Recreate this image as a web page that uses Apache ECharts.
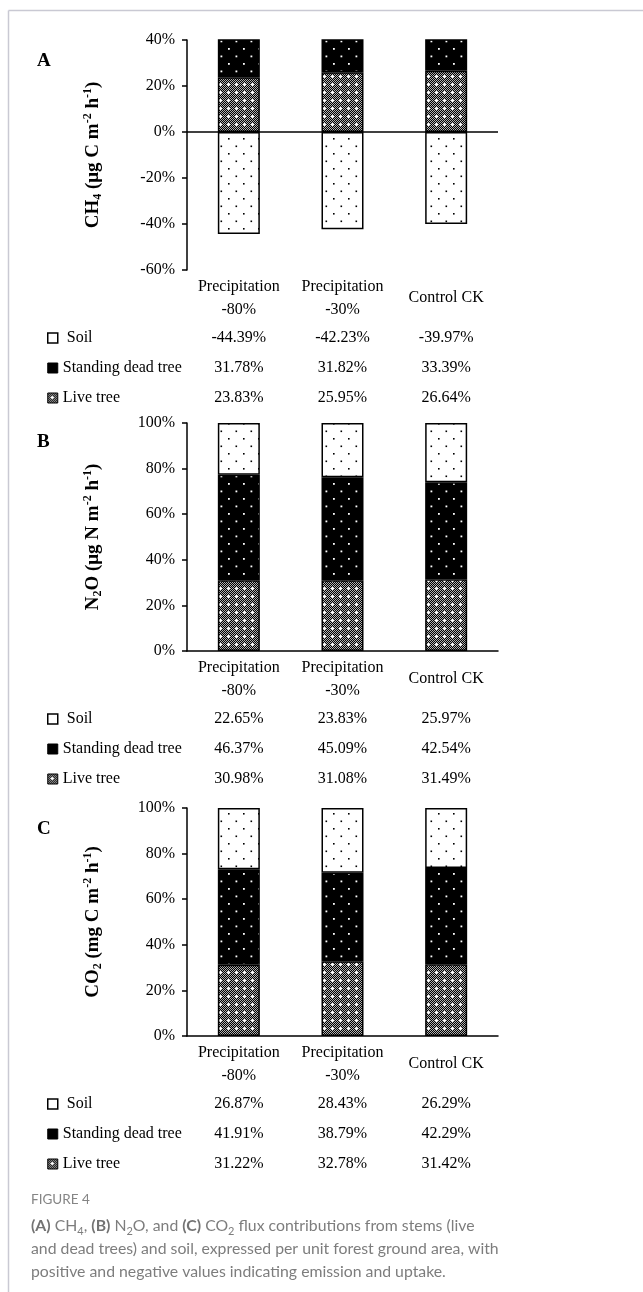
<!DOCTYPE html>
<html><head><meta charset="utf-8">
<script src="https://cdn.jsdelivr.net/npm/echarts@6/dist/echarts.min.js"></script>
<style>html,body{margin:0;padding:0;background:#fff;}#c{width:643px;height:1292px;}</style>
</head><body><div id="c"></div>
<script>
// ---- data ----
const categories = ['Precipitation\n-80%', 'Precipitation\n-30%', 'Control CK'];
const seriesNames = ['Soil', 'Standing dead tree', 'Live tree'];
const ch4Soil = [-44.39, -42.23, -39.97];
const ch4Dead = [31.78, 31.82, 33.39];
const ch4Live = [23.83, 25.95, 26.64];
const n2oSoil = [22.65, 23.83, 25.97];
const n2oDead = [46.37, 45.09, 42.54];
const n2oLive = [30.98, 31.08, 31.49];
const co2Soil = [26.87, 28.43, 26.29];
const co2Dead = [41.91, 38.79, 42.29];
const co2Live = [31.22, 32.78, 31.42];
const ch4Range = [-60, 40];
const pctRange = [0, 100];
const tickStep = 20;

// ---- patterns ----
function makeCanvas(w, h, draw) { const c = document.createElement('canvas'); c.width = w; c.height = h; draw(c.getContext('2d')); return c; }
const soilPat = makeCanvas(15, 15, g => { g.fillStyle = '#fff'; g.fillRect(0, 0, 15, 15); g.fillStyle = '#000'; g.fillRect(3, 3, 1.6, 1.6); g.fillRect(10.5, 10.5, 1.6, 1.6); });
const deadPat = makeCanvas(15, 15, g => { g.fillStyle = '#000'; g.fillRect(0, 0, 15, 15); g.fillStyle = '#fff'; g.fillRect(3, 3, 1.8, 1.8); g.fillRect(10.5, 10.5, 1.8, 1.8); });
const livePat = makeCanvas(16, 16, g => {
  g.fillStyle = '#000'; g.fillRect(0, 0, 16, 16);
  g.fillStyle = '#b0b0b0';
  for (let i = 0; i < 16; i++) for (let j = 0; j < 16; j++) if ((i + j) % 2 === 0) g.fillRect(i, j, 1, 1);
  g.fillStyle = '#fff';
  [[4, 4], [12, 4], [4, 12], [12, 12]].forEach(([x, y]) => { g.fillRect(x - 1, y, 3, 1); g.fillRect(x, y - 1, 1, 3); });
});
const fills = {
  'Soil': { image: soilPat, repeat: 'repeat' },
  'Standing dead tree': { image: deadPat, repeat: 'repeat' },
  'Live tree': { image: livePat, repeat: 'repeat' }
};

const SERIF = 'Liberation Serif';
const panels = [
  { letter: 'A', soil: ch4Soil, dead: ch4Dead, live: ch4Live, range: ch4Range, top: 40, height: 230, letterTop: 52,
    name: '{b|CH}{sub|4}{b| (μg C m}{sup|-2}{b| h}{sup|-1}{b|)}', zeroMark: true },
  { letter: 'B', soil: n2oSoil, dead: n2oDead, live: n2oLive, range: pctRange, top: 423, height: 228, letterTop: 433,
    name: '{b|N}{sub|2}{b|O (μg N m}{sup|-2}{b| h}{sup|-1}{b|)}', zeroMark: false },
  { letter: 'C', soil: co2Soil, dead: co2Dead, live: co2Live, range: pctRange, top: 808, height: 228, letterTop: 820,
    name: '{b|CO}{sub|2}{b| (mg C m}{sup|-2}{b| h}{sup|-1}{b|)}', zeroMark: false }
];

const grid = [], xAxis = [], yAxis = [], series = [], legend = [], title = [];
const rowOffsets = [68, 98, 128];
panels.forEach((p, gi) => {
  grid.push({ left: 187, width: 311, top: p.top, height: p.height });
  const baseX = xAxis.length;
  xAxis.push({
    type: 'category', gridIndex: gi, data: categories, position: 'bottom',
    axisLine: { show: !p.zeroMark, onZero: false, lineStyle: { color: '#000', width: 1.5 } },
    axisTick: { show: false },
    axisLabel: { interval: 0, fontFamily: SERIF, fontSize: 16, color: '#000', lineHeight: 23, verticalAlign: 'middle', margin: 28 }
  });
  const rows = [p.soil, p.dead, p.live];
  rows.forEach((arr, ri) => {
    xAxis.push({
      type: 'category', gridIndex: gi, data: categories, position: 'bottom', offset: rowOffsets[ri],
      axisLine: { show: false, onZero: false }, axisTick: { show: false }, splitLine: { show: false },
      axisLabel: { interval: 0, margin: 0, verticalAlign: 'middle', fontFamily: SERIF, fontSize: 16, color: '#000',
        formatter: (v, i) => arr[i].toFixed(2) + '%' }
    });
  });
  yAxis.push({
    type: 'value', gridIndex: gi, min: p.range[0], max: p.range[1], interval: tickStep,
    name: p.name, nameLocation: 'middle', nameGap: 83,
    nameTextStyle: {
      rich: {
        b: { fontFamily: SERIF, fontSize: 19, fontWeight: 'bold', color: '#000', lineHeight: 22 },
        sub: { fontFamily: SERIF, fontSize: 12, fontWeight: 'bold', color: '#000', lineHeight: 14, verticalAlign: 'bottom' },
        sup: { fontFamily: SERIF, fontSize: 12, fontWeight: 'bold', color: '#000', lineHeight: 14, verticalAlign: 'top' }
      }
    },
    axisLine: { show: true, lineStyle: { color: '#000', width: 1.5 } },
    axisTick: { show: true, length: 5, lineStyle: { color: '#000', width: 1.5 } },
    splitLine: { show: false },
    axisLabel: { formatter: '{value}%', fontFamily: SERIF, fontSize: 16, color: '#000', margin: 12 }
  });
  const stackId = 'st' + gi;
  [['Live tree', p.live], ['Standing dead tree', p.dead], ['Soil', p.soil]].forEach(([nm, data]) => {
    const s = {
      type: 'bar', name: nm, xAxisIndex: baseX, yAxisIndex: gi, stack: stackId, data: data,
      barWidth: 42, clip: true, animation: false,
      itemStyle: { color: fills[nm], borderColor: '#000', borderWidth: 1.5 }
    };
    if (nm === 'Soil' && p.zeroMark) {
      s.markLine = { silent: true, symbol: 'none', label: { show: false },
        lineStyle: { color: '#000', width: 1.5, type: 'solid' }, data: [{ yAxis: 0 }] };
    }
    series.push(s);
  });
  legend.push({
    orient: 'vertical', left: 47, top: p.top + p.height + rowOffsets[0] - 8, itemGap: 14, padding: 0,
    itemWidth: 10, itemHeight: 10, selectedMode: false,
    textStyle: { fontFamily: SERIF, fontSize: 16, color: '#000', lineHeight: 16 },
    formatter: n => (n === 'Soil' ? ' Soil' : n),
    data: [
      { name: 'Soil', icon: 'rect', itemStyle: { color: '#fff', borderColor: '#000', borderWidth: 1.5 } },
      { name: 'Standing dead tree', icon: 'rect', itemStyle: { color: '#000', borderColor: '#000', borderWidth: 1 } },
      { name: 'Live tree', icon: 'rect', itemStyle: { color: fills['Live tree'], borderColor: '#000', borderWidth: 1 } }
    ]
  });
  title.push({ text: p.letter, left: 37, top: p.letterTop, padding: 0,
    textStyle: { fontFamily: SERIF, fontSize: 19, fontWeight: 'bold', color: '#000' } });
});

title.push({ text: 'FIGURE 4', left: 31, top: 1193, padding: 0,
  textStyle: { fontFamily: 'Lato', fontSize: 13.5, fontWeight: 'normal', color: '#858585' } });
title.push({
  left: 31, top: 1214, padding: 0,
  text: '{b|(A)} CH{s|4}, {b|(B)} N{s|2}O, and {b|(C)} CO{s|2} flux contributions from stems (live\nand dead trees) and soil, expressed per unit forest ground area, with\npositive and negative values indicating emission and uptake.',
  textStyle: {
    fontFamily: 'Lato', fontSize: 15.8, fontWeight: 'normal', color: '#7d7d7d', lineHeight: 23,
    rich: {
      b: { fontFamily: 'Lato', fontSize: 15.8, fontWeight: 'bold', color: '#737373', lineHeight: 23 },
      s: { fontFamily: 'Lato', fontSize: 11, color: '#7d7d7d', lineHeight: 13, verticalAlign: 'bottom' }
    }
  }
});

const chart = echarts.init(document.getElementById('c'), null, { renderer: 'canvas' });
chart.setOption({
  animation: false, backgroundColor: '#fff',
  grid, xAxis, yAxis, series, legend, title,
  graphic: [
    { type: 'line', shape: { x1: 8.5, y1: 10.5, x2: 643, y2: 10.5 }, style: { stroke: '#c9c9d3', lineWidth: 1.5 }, silent: true },
    { type: 'line', shape: { x1: 8.5, y1: 10.5, x2: 8.5, y2: 1292 }, style: { stroke: '#c9c9d3', lineWidth: 1.5 }, silent: true }
  ]
});
</script></body></html>
